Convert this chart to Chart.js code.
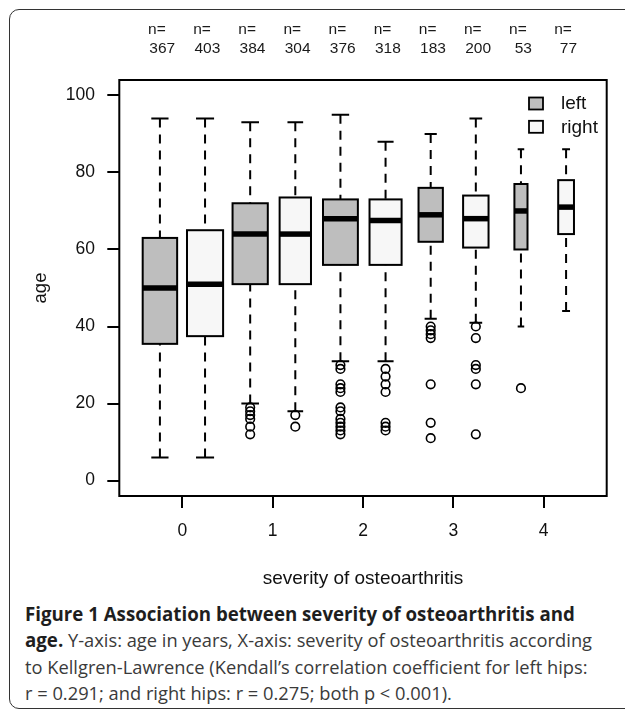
<!DOCTYPE html>
<html><head><meta charset="utf-8">
<script src="https://cdn.jsdelivr.net/npm/chart.js@4.4.1/dist/chart.umd.min.js"></script>
<style>
html,body{margin:0;padding:0;background:#fff;width:625px;height:713px;overflow:hidden;position:relative;}
#frame{position:absolute;left:9px;top:9px;width:660px;height:700px;border:1.5px solid #333;border-radius:10px;box-sizing:border-box;}
#wrap{position:absolute;left:0;top:0;width:625px;height:600px;}
#caption{position:absolute;left:25px;top:601px;font-family:'Open Sans';font-size:18.3px;line-height:26.3px;color:#3a3a3a;white-space:nowrap;}
#caption b{color:#1e1e1e;font-weight:700;font-size:18.7px;}
</style></head><body>
<div id="frame"></div>
<div id="wrap"><canvas id="c" width="625" height="600"></canvas></div>
<div id="caption">
<div><b>Figure 1 Association between severity of osteoarthritis and</b></div>
<div><b>age.</b> Y-axis: age in years, X-axis: severity of osteoarthritis according</div>
<div>to Kellgren-Lawrence (Kendall’s correlation coefficient for left hips:</div>
<div>r = 0.291; and right hips: r = 0.275; both p &lt; 0.001).</div>
</div>
<script>
// ---- data ----
const severity = ['0','1','2','3','4'];
const hips = ['left','right'];
const nCounts = [367,403,384,304,376,318,183,200,53,77];
const whiskerLow = [6,6,20,18,31,31,42,41,40,44];
const q1 = [35.5,37.5,51,51,56,56,62,60.5,60,64];
const median = [50,51,64,64,68,67.5,69,68,70,71];
const q3 = [63,65,72,73.5,73,73,76,74,77,78];
const whiskerHigh = [94,94,93,93,95,88,90,94,86,86];
const outliers = [
  [],[],
  [19,18,17,16,14,12],[17,14],
  [30,29,25,24,23,19,18,16,15,14,13,12],[29,27,25,23,15,14,13],
  [40,39,38,37,25,15,11],[40,37,30,29,25,12],
  [24],[]
];
const yTicks = [0,20,40,60,80,100];
const xTickPos = [1.5,3.5,5.5,7.5,9.5];
const fills = ['#bebebe','#f7f7f7'];

const FONT = 'Liberation Sans, Arial, sans-serif';
const maxSqrt = Math.sqrt(Math.max(...nCounts));
const outlierPts = [];
outliers.forEach((arr,i)=>arr.forEach(v=>outlierPts.push({x:i+1,y:v})));

const boxPlugin = {
  id:'boxes',
  beforeDatasetsDraw(chart){
    const {ctx, scales:{x,y}} = chart;
    ctx.save();
    nCounts.forEach((n,i)=>{
      const pos = i+1;
      const w = 0.8*Math.sqrt(n)/maxSqrt;
      const xl = x.getPixelForValue(pos-w/2), xr = x.getPixelForValue(pos+w/2);
      const xc = x.getPixelForValue(pos);
      const cl = x.getPixelForValue(pos-w/4), cr = x.getPixelForValue(pos+w/4);
      const yLo = y.getPixelForValue(whiskerLow[i]), yHi = y.getPixelForValue(whiskerHigh[i]);
      const yQ1 = y.getPixelForValue(q1[i]), yQ3 = y.getPixelForValue(q3[i]), yM = y.getPixelForValue(median[i]);
      ctx.strokeStyle='#000'; ctx.lineWidth=2;
      ctx.setLineDash([9,7]);
      ctx.beginPath(); ctx.moveTo(xc,yHi); ctx.lineTo(xc,yQ3); ctx.stroke();
      ctx.beginPath(); ctx.moveTo(xc,yLo); ctx.lineTo(xc,yQ1); ctx.stroke();
      ctx.setLineDash([]);
      ctx.beginPath(); ctx.moveTo(cl,yHi); ctx.lineTo(cr,yHi); ctx.moveTo(cl,yLo); ctx.lineTo(cr,yLo); ctx.stroke();
      ctx.fillStyle = fills[i%2];
      ctx.fillRect(xl,yQ3,xr-xl,yQ1-yQ3);
      ctx.strokeRect(xl,yQ3,xr-xl,yQ1-yQ3);
      ctx.lineWidth=5.5;
      ctx.beginPath(); ctx.moveTo(xl,yM); ctx.lineTo(xr,yM); ctx.stroke();
    });
    ctx.restore();
  },
  afterDraw(chart){
    const {ctx, chartArea:a, scales:{x,y}} = chart;
    ctx.save();
    ctx.strokeStyle='#000'; ctx.lineWidth=2;
    ctx.strokeRect(a.left,a.top,a.right-a.left,a.bottom-a.top);
    ctx.fillStyle='#1a1a1a'; ctx.font='15.5px '+FONT; ctx.textAlign='center'; ctx.textBaseline='alphabetic';
    nCounts.forEach((n,i)=>{
      const xc = x.getPixelForValue(i+1);
      ctx.fillText('n=', xc-3, 33.5);
      ctx.fillText(String(n), xc+2.3, 52.5);
    });
    ctx.font='19px '+FONT; ctx.textAlign='left'; ctx.textBaseline='middle';
    hips.forEach((h,k)=>{
      const by = 97.5 + k*23.3;
      ctx.fillStyle=fills[k]; ctx.fillRect(529,by,14,12);
      ctx.lineWidth=1.8; ctx.strokeStyle='#000'; ctx.strokeRect(529,by,14,12);
      ctx.fillStyle='#111'; ctx.fillText(h,561,by+6.5);
    });
    ctx.restore();
  }
};

new Chart(document.getElementById('c'),{
  type:'scatter',
  data:{datasets:[{
    label:'outliers', data:outlierPts,
    pointStyle:'circle', pointRadius:4.3, pointHoverRadius:4.3,
    pointBorderWidth:1.6, borderColor:'#000', backgroundColor:'rgba(255,255,255,0)'
  }]},
  options:{
    responsive:false, animation:false, devicePixelRatio:1,
    layout:{padding:{left:0,top:80,right:18.3,bottom:0}},
    plugins:{legend:{display:false},tooltip:{enabled:false}},
    scales:{
      x:{type:'linear',min:0.1,max:10.9,
        afterBuildTicks:a=>{a.ticks=xTickPos.map(v=>({value:v}));},
        afterFit:a=>{a.height=104;},
        ticks:{callback:(v,i)=>severity[i],font:{family:FONT,size:17.5},color:'#111',padding:13,maxRotation:0,autoSkip:false},
        grid:{display:true,drawOnChartArea:false,drawTicks:true,tickLength:12,color:'#000',lineWidth:2},
        border:{display:false},
        title:{display:true,text:'severity of osteoarthritis',font:{family:FONT,size:19},color:'#111',padding:{top:0,bottom:9.6}}
      },
      y:{type:'linear',min:-4,max:104,
        afterBuildTicks:a=>{a.ticks=yTicks.map(v=>({value:v}));},
        afterFit:a=>{a.width=119.3;},
        ticks:{font:{family:FONT,size:17.5},color:'#111',padding:12.3},
        grid:{display:true,drawOnChartArea:false,drawTicks:true,tickLength:12,color:'#000',lineWidth:2},
        border:{display:false},
        title:{display:true,text:'age',font:{family:FONT,size:18.5},color:'#111',padding:{top:29.6,bottom:0}}
      }
    }
  },
  plugins:[boxPlugin]
});
</script>
</body></html>
